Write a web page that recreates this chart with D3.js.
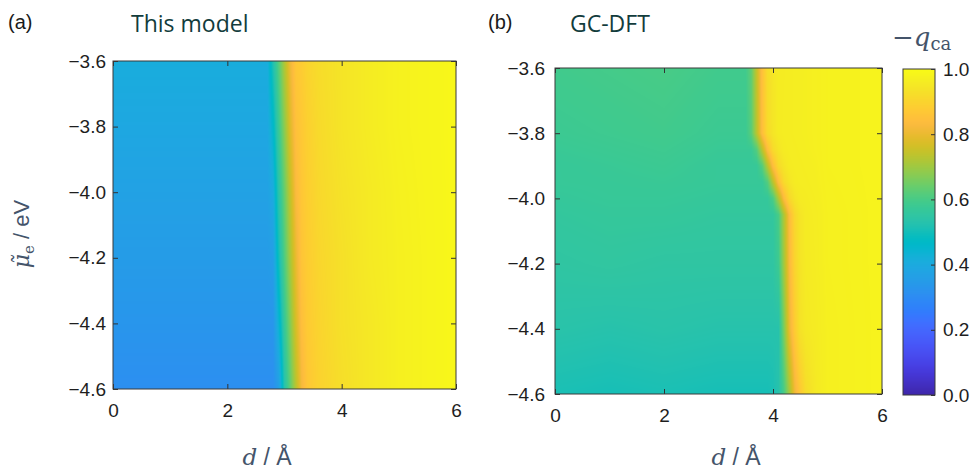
<!DOCTYPE html>
<html>
<head>
<meta charset="utf-8">
<script src="https://cdn.jsdelivr.net/npm/d3@7"></script>
<style>
  body { margin: 0; background: #fff; }
  svg { display: block; }
</style>
</head>
<body>
<script>
var WIDTH = 972, HEIGHT = 471;

// (a) this model: rows of mu (eV), columns of d (A), values of -q_ca
var MU_A = [-3.6, -3.8, -4.0, -4.2, -4.4, -4.6];
var D_A = [0, 1, 2, 2.5, 2.7, 2.8, 2.9, 3.0, 3.1, 3.2, 3.3, 3.4, 3.6, 4, 4.5, 5, 6];
var Q_A = [
  [0.41, 0.41, 0.41, 0.41, 0.41, 0.52, 0.62, 0.72, 0.81, 0.87, 0.88, 0.90, 0.92, 0.94, 0.96, 0.975, 0.99],
  [0.39, 0.39, 0.39, 0.39, 0.39, 0.46, 0.58, 0.68, 0.78, 0.85, 0.87, 0.89, 0.915, 0.94, 0.96, 0.975, 0.99],
  [0.37, 0.37, 0.37, 0.37, 0.37, 0.40, 0.54, 0.64, 0.74, 0.83, 0.865, 0.885, 0.91, 0.935, 0.955, 0.972, 0.99],
  [0.35, 0.35, 0.35, 0.35, 0.35, 0.36, 0.50, 0.61, 0.71, 0.80, 0.86, 0.88, 0.905, 0.93, 0.955, 0.97, 0.99],
  [0.33, 0.33, 0.33, 0.33, 0.33, 0.33, 0.44, 0.57, 0.67, 0.77, 0.845, 0.875, 0.90, 0.93, 0.95, 0.97, 0.99],
  [0.31, 0.31, 0.31, 0.31, 0.31, 0.31, 0.36, 0.53, 0.63, 0.73, 0.82, 0.865, 0.895, 0.925, 0.95, 0.97, 0.99]
];

// (b) GC-DFT
var MU_B = [-3.6, -3.8, -3.85, -3.9, -3.95, -4.0, -4.05, -4.2, -4.4, -4.6];
var D_B = [0, 1, 2, 3, 3.4, 3.5, 3.6, 3.7, 3.8, 3.9, 4.0, 4.1, 4.2, 4.3, 4.4, 4.5, 4.6, 4.8, 5, 6];
var Q_B = [
  [0.59, 0.595, 0.60, 0.59, 0.59, 0.59, 0.632, 0.744, 0.851, 0.923, 0.945, 0.96, 0.961, 0.963, 0.965, 0.966, 0.968, 0.97, 0.975, 0.98],
  [0.58, 0.585, 0.59, 0.58, 0.58, 0.58, 0.62, 0.73, 0.843, 0.916, 0.943, 0.96, 0.962, 0.963, 0.965, 0.967, 0.968, 0.97, 0.975, 0.98],
  [0.575, 0.58, 0.585, 0.575, 0.575, 0.575, 0.575, 0.617, 0.73, 0.843, 0.916, 0.943, 0.96, 0.962, 0.963, 0.965, 0.967, 0.97, 0.975, 0.98],
  [0.57, 0.575, 0.58, 0.57, 0.57, 0.57, 0.57, 0.57, 0.615, 0.73, 0.843, 0.916, 0.943, 0.96, 0.962, 0.963, 0.965, 0.968, 0.975, 0.98],
  [0.57, 0.572, 0.575, 0.57, 0.57, 0.57, 0.57, 0.57, 0.57, 0.615, 0.73, 0.843, 0.916, 0.943, 0.96, 0.962, 0.963, 0.967, 0.974, 0.98],
  [0.565, 0.57, 0.57, 0.565, 0.565, 0.565, 0.565, 0.565, 0.565, 0.565, 0.603, 0.716, 0.834, 0.909, 0.942, 0.958, 0.96, 0.965, 0.973, 0.98],
  [0.56, 0.565, 0.565, 0.56, 0.56, 0.56, 0.56, 0.56, 0.56, 0.56, 0.56, 0.60, 0.716, 0.834, 0.909, 0.942, 0.958, 0.963, 0.972, 0.98],
  [0.55, 0.555, 0.55, 0.55, 0.55, 0.55, 0.55, 0.55, 0.55, 0.55, 0.55, 0.583, 0.702, 0.826, 0.902, 0.94, 0.957, 0.962, 0.972, 0.98],
  [0.535, 0.53, 0.535, 0.53, 0.53, 0.53, 0.53, 0.53, 0.53, 0.53, 0.53, 0.53, 0.66, 0.80, 0.881, 0.935, 0.952, 0.96, 0.97, 0.98],
  [0.51, 0.505, 0.51, 0.505, 0.505, 0.505, 0.505, 0.505, 0.505, 0.505, 0.51, 0.53, 0.60, 0.70, 0.81, 0.87, 0.92, 0.955, 0.97, 0.98]
];

var X_TICKS = [0, 2, 4, 6];
var Y_TICKS = [-3.6, -3.8, -4.0, -4.2, -4.4, -4.6];
var CBAR_TICKS = [0, 0.2, 0.4, 0.6, 0.8, 1.0];

// parula colormap (64 steps)
var PARULA = [
  [0.2422, 0.1504, 0.6603], [0.2504, 0.1650, 0.7076], [0.2578, 0.1818, 0.7511], [0.2647, 0.1978, 0.7952],
  [0.2706, 0.2147, 0.8364], [0.2751, 0.2342, 0.8710], [0.2783, 0.2559, 0.8991], [0.2803, 0.2782, 0.9221],
  [0.2813, 0.3006, 0.9414], [0.2810, 0.3228, 0.9579], [0.2795, 0.3447, 0.9717], [0.2760, 0.3667, 0.9829],
  [0.2699, 0.3892, 0.9906], [0.2602, 0.4123, 0.9952], [0.2440, 0.4358, 0.9988], [0.2206, 0.4603, 0.9973],
  [0.1963, 0.4847, 0.9892], [0.1834, 0.5074, 0.9798], [0.1786, 0.5289, 0.9682], [0.1764, 0.5499, 0.9520],
  [0.1687, 0.5703, 0.9359], [0.1540, 0.5902, 0.9218], [0.1460, 0.6091, 0.9079], [0.1380, 0.6276, 0.8973],
  [0.1248, 0.6459, 0.8883], [0.1113, 0.6635, 0.8763], [0.0952, 0.6798, 0.8598], [0.0689, 0.6948, 0.8394],
  [0.0297, 0.7082, 0.8163], [0.0036, 0.7203, 0.7917], [0.0067, 0.7312, 0.7660], [0.0433, 0.7411, 0.7394],
  [0.0964, 0.7500, 0.7120], [0.1408, 0.7584, 0.6842], [0.1717, 0.7670, 0.6554], [0.1938, 0.7758, 0.6251],
  [0.2161, 0.7843, 0.5923], [0.2470, 0.7918, 0.5567], [0.2906, 0.7973, 0.5188], [0.3406, 0.8008, 0.4789],
  [0.3909, 0.8029, 0.4354], [0.4456, 0.8024, 0.3909], [0.5044, 0.7993, 0.3480], [0.5616, 0.7942, 0.3045],
  [0.6174, 0.7876, 0.2612], [0.6720, 0.7793, 0.2227], [0.7242, 0.7698, 0.1910], [0.7738, 0.7598, 0.1646],
  [0.8203, 0.7498, 0.1535], [0.8634, 0.7406, 0.1596], [0.9035, 0.7330, 0.1774], [0.9393, 0.7288, 0.2100],
  [0.9728, 0.7298, 0.2394], [0.9956, 0.7434, 0.2371], [0.9970, 0.7659, 0.2199], [0.9952, 0.7893, 0.2028],
  [0.9892, 0.8136, 0.1885], [0.9786, 0.8386, 0.1766], [0.9676, 0.8639, 0.1643], [0.9610, 0.8890, 0.1537],
  [0.9597, 0.9135, 0.1423], [0.9628, 0.9373, 0.1265], [0.9691, 0.9606, 0.1064], [0.9769, 0.9839, 0.0805]
];

var LABEL_COLOR = '#44546a';
var TICK_FONT = '"Liberation Sans", Arial, sans-serif';
var MATH_FONT = '"DejaVu Serif", serif';

var color = d3.scaleLinear()
    .domain(PARULA.map(function(c, i) { return i / (PARULA.length - 1); }))
    .range(PARULA.map(function(c) { return d3.rgb(c[0] * 255, c[1] * 255, c[2] * 255); }))
    .clamp(true);

// lookup table so the per-pixel loop stays cheap
var LUT = d3.range(1024).map(function(i) { return d3.rgb(color(i / 1023)); });

var svg = d3.select('body').append('svg')
    .attr('width', WIDTH)
    .attr('height', HEIGHT)
    .attr('font-family', TICK_FONT);

/**
 * Bilinear lookup in a grid whose rows run from high mu to low mu.
 */
function sampleGrid(cols, rows, vals, d, mu) {
  var i = Math.max(0, Math.min(cols.length - 2, d3.bisectRight(cols, d) - 1));
  var tx = (d - cols[i]) / (cols[i + 1] - cols[i]);
  var j = 0;
  while (j < rows.length - 2 && mu < rows[j + 1]) j++;
  var ty = (rows[j] - mu) / (rows[j] - rows[j + 1]);
  tx = Math.max(0, Math.min(1, tx));
  ty = Math.max(0, Math.min(1, ty));
  var top = vals[j][i] * (1 - tx) + vals[j][i + 1] * tx;
  var bot = vals[j + 1][i] * (1 - tx) + vals[j + 1][i + 1] * tx;
  return top * (1 - ty) + bot * ty;
}

/**
 * Paint a field into a canvas and return it as a data url.
 */
function paint(w, h, valueAt) {
  var canvas = document.createElement('canvas');
  canvas.width = w;
  canvas.height = h;
  var ctx = canvas.getContext('2d');
  var img = ctx.createImageData(w, h);
  for (var py = 0; py < h; py++) {
    for (var px = 0; px < w; px++) {
      var q = valueAt(px + 0.5, py + 0.5);
      var c = LUT[Math.max(0, Math.min(1023, Math.round(q * 1023)))];
      var k = (py * w + px) * 4;
      img.data[k] = c.r;
      img.data[k + 1] = c.g;
      img.data[k + 2] = c.b;
      img.data[k + 3] = 255;
    }
  }
  ctx.putImageData(img, 0, 0);
  return canvas.toDataURL();
}

function styleAxis(g) {
  g.select('.domain').remove();
  g.selectAll('.tick line').attr('stroke', '#333');
  g.selectAll('.tick text')
      .attr('fill', '#1e1e1e')
      .attr('font-size', 19)
      .attr('font-family', TICK_FONT);
}

/**
 * One heat map panel with inward ticks on all four sides.
 */
function drawPanel(p) {
  var x = d3.scaleLinear().domain([0, 6]).range([p.left, p.right]);
  var y = d3.scaleLinear().domain([-4.6, -3.6]).range([p.bottom, p.top]);
  var w = p.right - p.left, h = p.bottom - p.top;

  var url = paint(w, h, function(px, py) {
    return sampleGrid(p.cols, p.rows, p.vals, x.invert(p.left + px), y.invert(p.top + py));
  });
  svg.append('image')
      .attr('x', p.left).attr('y', p.top)
      .attr('width', w).attr('height', h)
      .attr('preserveAspectRatio', 'none')
      .attr('href', url);

  svg.append('g')
      .attr('transform', 'translate(0,' + p.bottom + ')')
      .call(d3.axisBottom(x).tickValues(X_TICKS).tickFormat(d3.format('d'))
          .tickSizeInner(-5).tickSizeOuter(0).tickPadding(15))
      .call(styleAxis);
  svg.append('g')
      .attr('transform', 'translate(0,' + p.top + ')')
      .call(d3.axisTop(x).tickValues(X_TICKS).tickFormat('')
          .tickSizeInner(-5).tickSizeOuter(0))
      .call(styleAxis);
  svg.append('g')
      .attr('transform', 'translate(' + p.left + ',0)')
      .call(d3.axisLeft(y).tickValues(Y_TICKS).tickFormat(d3.format('.1f'))
          .tickSizeInner(-5).tickSizeOuter(0).tickPadding(p.ypad))
      .call(styleAxis);
  svg.append('g')
      .attr('transform', 'translate(' + p.right + ',0)')
      .call(d3.axisRight(y).tickValues(Y_TICKS).tickFormat('')
          .tickSizeInner(-5).tickSizeOuter(0))
      .call(styleAxis);

  svg.append('rect')
      .attr('x', p.left).attr('y', p.top)
      .attr('width', w).attr('height', h)
      .attr('fill', 'none')
      .attr('stroke', '#3a3a3a')
      .attr('stroke-width', 1);

  svg.append('text')
      .attr('x', p.tagX).attr('y', 29)
      .attr('font-size', 20)
      .attr('fill', '#1a1a1a')
      .text(p.tag);
  svg.append('text')
      .attr('x', p.titleX).attr('y', 32)
      .attr('font-family', '"Open Sans", sans-serif')
      .attr('font-size', 23)
      .attr('fill', '#123c3c')
      .text(p.title);

  var xl = svg.append('text')
      .attr('x', p.xlabelX).attr('y', 465)
      .attr('text-anchor', 'middle')
      .attr('font-size', 23)
      .attr('fill', LABEL_COLOR);
  xl.append('tspan').attr('font-family', MATH_FONT).attr('font-style', 'italic').text('d');
  xl.append('tspan').attr('font-family', TICK_FONT).text(' / Å');
}

drawPanel({
  left: 113, right: 456, top: 61, bottom: 389, ypad: 7,
  cols: D_A, rows: MU_A, vals: Q_A,
  tag: '(a)', tagX: 8, title: 'This model', titleX: 131, xlabelX: 267
});

drawPanel({
  left: 555, right: 882, top: 68, bottom: 394, ypad: 10,
  cols: D_B, rows: MU_B, vals: Q_B,
  tag: '(b)', tagX: 488, title: 'GC-DFT', titleX: 570, xlabelX: 736
});

// y label for panel (a)
var yl = svg.append('text')
    .attr('transform', 'translate(29,234) rotate(-90)')
    .attr('text-anchor', 'middle')
    .attr('font-size', 22)
    .attr('fill', LABEL_COLOR);
yl.append('tspan').attr('font-family', MATH_FONT).attr('font-style', 'italic').text('μ\u0303');
yl.append('tspan').attr('font-family', MATH_FONT).attr('font-size', 15).attr('dy', 5).text('e');
yl.append('tspan').attr('font-family', TICK_FONT).attr('dy', -5).text(' / eV');

// colour bar
var cb = {left: 903, right: 935, top: 69, bottom: 395};
var cy = d3.scaleLinear().domain([0, 1]).range([cb.bottom, cb.top]);
var cbUrl = paint(cb.right - cb.left, cb.bottom - cb.top, function(px, py) {
  return cy.invert(cb.top + py);
});
svg.append('image')
    .attr('x', cb.left).attr('y', cb.top)
    .attr('width', cb.right - cb.left).attr('height', cb.bottom - cb.top)
    .attr('preserveAspectRatio', 'none')
    .attr('href', cbUrl);
svg.append('g')
    .attr('transform', 'translate(' + cb.right + ',0)')
    .call(d3.axisRight(cy).tickValues(CBAR_TICKS).tickFormat(d3.format('.1f'))
        .tickSizeInner(-4).tickSizeOuter(0).tickPadding(8))
    .call(styleAxis);
svg.append('rect')
    .attr('x', cb.left).attr('y', cb.top)
    .attr('width', cb.right - cb.left).attr('height', cb.bottom - cb.top)
    .attr('fill', 'none')
    .attr('stroke', '#3a3a3a');

var ct = svg.append('text')
    .attr('x', 892).attr('y', 46)
    .attr('font-family', MATH_FONT)
    .attr('font-size', 26)
    .attr('fill', LABEL_COLOR);
ct.append('tspan').text('−');
ct.append('tspan').attr('font-style', 'italic').text('q');
ct.append('tspan').attr('font-size', 18).attr('dy', 4).text('ca');
</script>
</body>
</html>
